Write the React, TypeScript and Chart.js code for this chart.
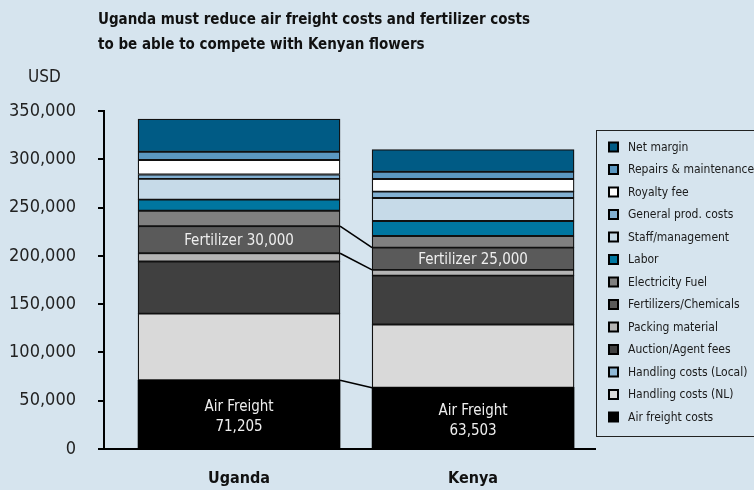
import React, { useEffect, useRef } from "react";
import { Chart, registerables } from "chart.js";

Chart.register(...registerables);

const categories = ["Uganda", "Kenya"];

// stacked from bottom to top
const seriesLabels = [
  "Air freight costs",
  "Handling costs (NL)",
  "Handling costs (Local)",
  "Auction/Agent fees",
  "Packing material",
  "Fertilizers/Chemicals",
  "Electricity Fuel",
  "Labor",
  "Staff/management",
  "General prod. costs",
  "Royalty fee",
  "Repairs & maintenance",
  "Net margin",
];

const airFreight = [71205, 63503];
const handlingNL = [69000, 65500];
const handlingLocal = [0, 0];
const auctionFees = [54000, 50500];
const packing = [8500, 6000];
const fertilizers = [28000, 23000];
const electricity = [16000, 12000];
const labor = [11500, 15500];
const staff = [21500, 24000];
const generalProd = [4500, 6500];
const royalty = [15000, 13000];
const repairs = [8500, 7500];
const netMargin = [34000, 23000];

const seriesValues = [
  airFreight,
  handlingNL,
  handlingLocal,
  auctionFees,
  packing,
  fertilizers,
  electricity,
  labor,
  staff,
  generalProd,
  royalty,
  repairs,
  netMargin,
];

const seriesColors = [
  "#000000",
  "#d9d9d9",
  "#8fb8d6",
  "#404040",
  "#b4b4b4",
  "#5a5a5a",
  "#808080",
  "#0076a0",
  "#c6dae8",
  "#82b0d2",
  "#ffffff",
  "#5b97c0",
  "#005b85",
];

const fertilizerLabels = ["Fertilizer 30,000", "Fertilizer 25,000"];
const airFreightLabels = ["71,205", "63,503"];

const yTicks = [0, 50000, 100000, 150000, 200000, 250000, 300000, 350000];

const titleLines = [
  "Uganda must reduce air freight costs and fertilizer costs",
  "to be able to compete with Kenyan flowers",
];
const unitLabel = "USD";

const NARROW = "'DejaVu Sans Condensed', 'Liberation Sans Narrow', sans-serif";
const BG = "#d6e4ee";

export default function App() {
  const ref = useRef<HTMLCanvasElement | null>(null);

  useEffect(() => {
    document.body.style.margin = "0";
    const canvas = ref.current;
    if (!canvas) return;

    const decorPlugin = {
      id: "decor",
      beforeDraw(chart: any) {
        const ctx = chart.ctx;
        ctx.save();
        ctx.fillStyle = BG;
        ctx.fillRect(0, 0, chart.width, chart.height);
        ctx.restore();
      },
      afterDatasetsDraw(chart: any) {
        const ctx = chart.ctx;
        const fertIdx = seriesLabels.indexOf("Fertilizers/Chemicals");
        const airIdx = 0;
        const fm = chart.getDatasetMeta(fertIdx).data;
        const am = chart.getDatasetMeta(airIdx).data;
        ctx.save();
        // connectors
        ctx.strokeStyle = "#000";
        ctx.lineWidth = 1.6;
        const conn = (a: any, b: any, useTop: boolean) => {
          const ya = useTop ? Math.min(a.y, a.base) : Math.max(a.y, a.base);
          const yb = useTop ? Math.min(b.y, b.base) : Math.max(b.y, b.base);
          ctx.beginPath();
          ctx.moveTo(a.x + a.width / 2, ya);
          ctx.lineTo(b.x - b.width / 2, yb);
          ctx.stroke();
        };
        conn(fm[0], fm[1], true);
        conn(fm[0], fm[1], false);
        conn(am[0], am[1], true);

        // inner labels
        ctx.fillStyle = "#eeeeee";
        ctx.textAlign = "center";
        ctx.textBaseline = "middle";
        ctx.font = `15px ${NARROW}`;
        for (let i = 0; i < categories.length; i++) {
          const f = fm[i];
          ctx.fillText(fertilizerLabels[i], f.x, (f.y + f.base) / 2 + 1);
          const a = am[i];
          const cy = (a.y + a.base) / 2;
          ctx.fillText("Air Freight", a.x, cy - 7);
          ctx.fillText(airFreightLabels[i], a.x, cy + 13);
        }
        ctx.restore();
      },
      afterDraw(chart: any) {
        const ctx = chart.ctx;
        ctx.save();
        // title
        ctx.fillStyle = "#111";
        ctx.textAlign = "left";
        ctx.textBaseline = "alphabetic";
        ctx.font = `bold 15px ${NARROW}`;
        ctx.fillText(titleLines[0], 98, 24);
        ctx.fillText(titleLines[1], 98, 49);
        // unit
        ctx.font = `17px ${NARROW}`;
        ctx.fillStyle = "#222";
        ctx.fillText(unitLabel, 28, 82);

        // legend
        const bx = 596, by = 130, bh = 306;
        ctx.strokeStyle = "#222";
        ctx.lineWidth = 1;
        ctx.strokeRect(bx + 0.5, by + 0.5, 200, bh);
        ctx.font = `12px ${NARROW}`;
        ctx.textBaseline = "middle";
        const n = seriesLabels.length;
        for (let k = 0; k < n; k++) {
          const i = n - 1 - k;
          const y = 147 + k * 22.5;
          ctx.fillStyle = "#000";
          ctx.fillRect(608, y - 5.5, 11, 11);
          ctx.fillStyle = seriesColors[i];
          ctx.fillRect(610, y - 3.5, 7, 7);
          ctx.fillStyle = "#1a1a1a";
          ctx.fillText(seriesLabels[i], 628, y + 0.5);
        }
        ctx.restore();
      },
    };

    const datasets = seriesLabels.map((label, i) => ({
      label,
      data: categories.map((_, c) => ({ x: c, y: seriesValues[i][c] })),
      backgroundColor: seriesColors[i],
      borderColor: "#111111",
      borderWidth: i === 0 ? 0 : 1.3,
      borderSkipped: false,
      barThickness: 202,
    }));

    const chart = new Chart(canvas, {
      type: "bar",
      data: { datasets },
      plugins: [decorPlugin],
      options: {
        animation: false,
        responsive: false,
        maintainAspectRatio: false,
        layout: { padding: { top: 111, right: 159, left: 0, bottom: 0 } },
        plugins: {
          legend: { display: false },
          tooltip: { enabled: false },
          title: { display: false },
        },
        scales: {
          x: {
            type: "linear",
            stacked: true,
            min: -0.577,
            max: 1.521,
            offset: false,
            afterBuildTicks: (s: any) => {
              s.ticks = categories.map((_, i) => ({ value: i }));
            },
            afterFit: (s: any) => {
              s.height = 41;
            },
            grid: { display: false, drawTicks: false },
            border: { display: true, color: "#000", width: 2 },
            ticks: {
              padding: 20,
              color: "#111",
              font: { family: NARROW, size: 16, weight: "bold" },
              callback: (v: any) => categories[v] ?? "",
            },
          },
          y: {
            stacked: true,
            min: 0,
            max: 350000,
            afterBuildTicks: (s: any) => {
              s.ticks = yTicks.map((v) => ({ value: v }));
            },
            afterFit: (s: any) => {
              s.width = 104;
            },
            grid: {
              drawOnChartArea: false,
              drawTicks: true,
              tickLength: 6,
              color: "#000",
              lineWidth: 2,
            },
            border: { display: true, color: "#000", width: 2 },
            ticks: {
              padding: 22,
              color: "#222",
              font: { family: NARROW, size: 18 },
              callback: (v: any) => Number(v).toLocaleString("en-US"),
            },
          },
        },
      },
    });

    return () => chart.destroy();
  }, []);

  return (
    <div style={{ width: 754, height: 490, position: "relative" }}>
      <canvas ref={ref} width={754} height={490} style={{ display: "block" }} />
    </div>
  );
}
